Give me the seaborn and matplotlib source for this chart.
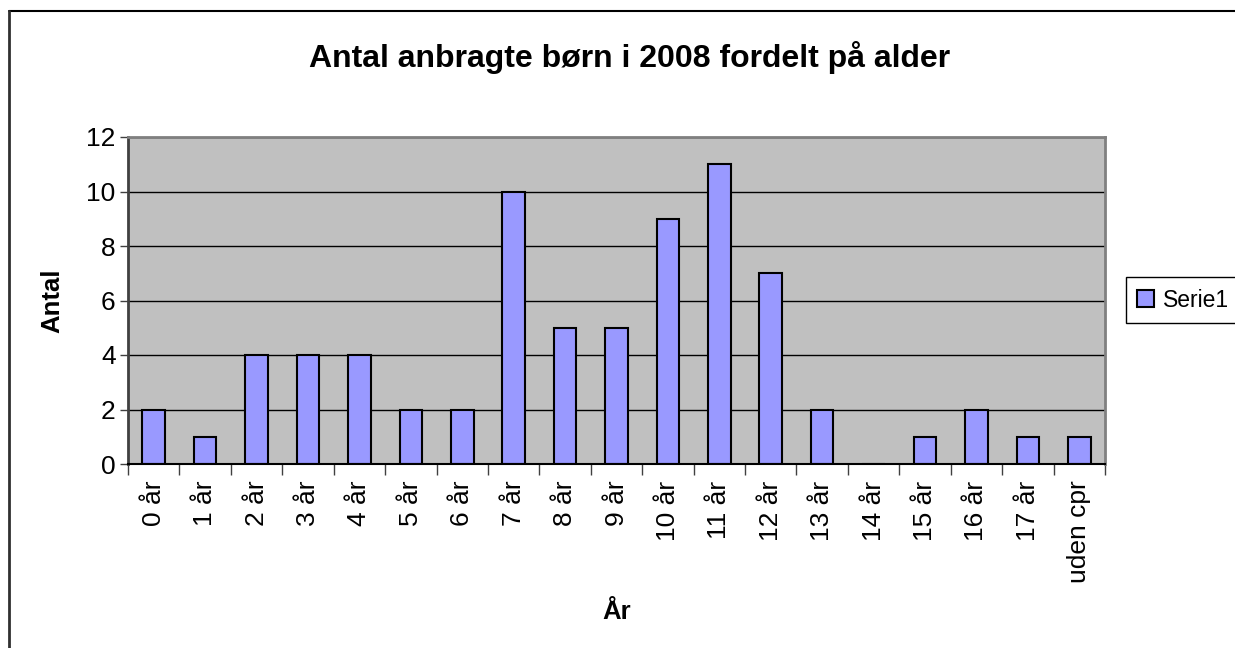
import matplotlib
matplotlib.use("Agg")
import matplotlib.pyplot as plt
import seaborn as sns
import pandas as pd
import numpy as np
from matplotlib.lines import Line2D

# Data
categories = ["0 år", "1 år", "2 år", "3 år", "4 år", "5 år", "6 år", "7 år", "8 år",
              "9 år", "10 år", "11 år", "12 år", "13 år", "14 år", "15 år", "16 år",
              "17 år", "uden cpr"]
counts = [2, 1, 4, 4, 4, 2, 2, 10, 5, 5, 9, 11, 7, 2, 0, 1, 2, 1, 1]
series_name = "Serie1"

df = pd.DataFrame({"alder": categories, "antal": counts})

sns.set_style("white")
plt.rcParams['font.family'] = ['Liberation Sans', 'DejaVu Sans']
plt.rcParams['text.color'] = 'black'
plt.rcParams['xtick.color'] = 'black'
plt.rcParams['ytick.color'] = 'black'
plt.rcParams['axes.labelcolor'] = 'black'

fig = plt.figure(figsize=(12.35, 6.48), dpi=100)
ax = fig.add_axes([128 / 1235, 1 - 464 / 648, (1105 - 128) / 1235, (464 - 137) / 648])
ax.set_facecolor("#C0C0C0")

sns.barplot(data=df, x="alder", y="antal", color="#9999FF", width=0.44,
            edgecolor="black", linewidth=1.5, saturation=1, ax=ax, label=series_name)

ax.set_ylim(0, 12)
ax.set_xlim(-0.5, len(categories) - 0.5)
ax.set_yticks(np.arange(0, 13, 2))
ax.yaxis.grid(True, color="black", linewidth=1)
ax.set_axisbelow(True)

# category ticks between bars
ax.set_xticks(np.arange(-0.5, len(categories), 1), minor=True)
ax.tick_params(axis="x", which="minor", length=8, width=1, color="#404040", direction="out", bottom=True)
ax.tick_params(axis="x", which="major", length=0, labelsize=19, rotation=90, pad=12)
ax.tick_params(axis="y", length=6, width=1, color="#404040", direction="out", left=True, labelsize=19, pad=3)

for side in ["top", "right"]:
    ax.spines[side].set_color("#808080")
    ax.spines[side].set_linewidth(2)
ax.spines["left"].set_color("#404040")
ax.spines["left"].set_linewidth(2)
ax.spines["bottom"].set_color("black")
ax.spines["bottom"].set_linewidth(1.5)

ax.set_xlabel("År", fontsize=18.5, fontweight="bold", labelpad=12)
ax.set_ylabel("Antal", fontsize=18.5, fontweight="bold", labelpad=16)

fig.suptitle("Antal anbragte børn i 2008 fordelt på alder", fontsize=23, fontweight="bold",
             x=630 / 1235, y=1 - 57 / 648, va="center")

leg = ax.legend(loc="center left", bbox_to_anchor=(1126 / 1235, 1 - 300 / 648),
                bbox_transform=fig.transFigure, fontsize=16.5, frameon=True, fancybox=False,
                handlelength=0.7, handleheight=0.7, handletextpad=0.4, borderpad=0.5,
                borderaxespad=0)
leg.get_frame().set_edgecolor("black")
leg.get_frame().set_linewidth(1)
leg.get_frame().set_alpha(1)

# outer chart border (top and left visible)
fig.add_artist(Line2D([9 / 1235, 1], [1 - 11 / 648, 1 - 11 / 648], transform=fig.transFigure,
                      color="black", linewidth=1.5))
fig.add_artist(Line2D([9 / 1235, 9 / 1235], [0, 1 - 11 / 648], transform=fig.transFigure,
                      color="#303030", linewidth=2))

fig.savefig("out.png", dpi=100)
